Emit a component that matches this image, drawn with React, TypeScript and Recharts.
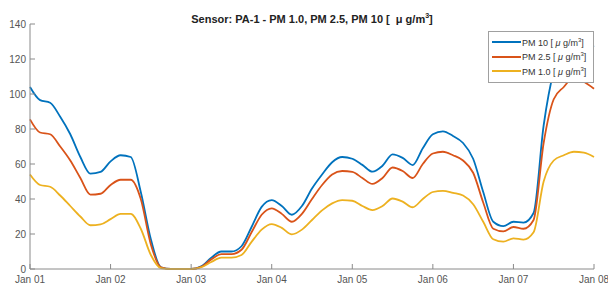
import React from 'react';
import { LineChart, Line, XAxis, YAxis, Legend } from 'recharts';

const hours = [0,3,6,9,12,15,18,21,24,27,30,33,36,39,42,45,48,51,54,57,60,63,66,69,72,75,78,81,84,87,90,93,96,99,102,105,108,111,114,117,120,123,126,129,132,135,138,141,144,147,150,153,156,159,162,165,168];

const pm10 = [104,96.5,95,87,77,64,54.5,55.5,61.5,65,64,44,17,1,0,0,0,1.5,6.5,10,10,13,24,35.5,39.4,36,31,36,46,54,61,64,63,59.5,55.6,59,65.5,63.5,59.4,69,77,78.7,76,72,63,44,27,24.5,27,26.5,32,82,113,126,131,130,127];
const pm25 = [85.5,78,77,70,62,52,42.5,43,48,51,51,40,14,1,0,0,0,1.2,5.5,8.5,8.5,11,21,31,34.7,31.5,27,31.5,40,48,54,56,55.5,52,48.6,52,58,56,52,60,66,67,65,62,55,38,23,21.5,24,23,28,72,97,104,109.5,107,103];
const pm1 = [54,48,47,42,36,30,25,25.5,28.5,31.5,31.5,23,8,0.5,0,0,0,1,4,6.5,6.5,8,15.5,22.5,25.7,23.5,19.8,22.5,28,33.5,37.5,39.4,39,36,33.7,36,40.3,38.5,35.3,40,44,44.7,43.5,42,37,27,17,15.6,17.5,16.8,21,50,62,65,67,66.5,64];

const xTickHours = [0,24,48,72,96,120,144,168];
const xTickLabels = ['Jan 01','Jan 02','Jan 03','Jan 04','Jan 05','Jan 06','Jan 07','Jan 08'];
const yTicks = [0,20,40,60,80,100,120,140];
const seriesNames = ['PM 10','PM 2.5','PM 1.0'];
const seriesColors = ['#0072BD','#D95319','#EDB120'];

const data = hours.map((t, i) => ({ t, pm10: pm10[i], pm25: pm25[i], pm1: pm1[i] }));

const FONT = '"Liberation Sans", Arial, sans-serif';
const AXIS = '#8a8a8a';

const renderLegend = (props: any) => {
  const payload = [...(props.payload || [])].sort(
    (a: any, b: any) => seriesNames.indexOf(a.value) - seriesNames.indexOf(b.value)
  );
  return (
    <div style={{ border: '1px solid #a0a0a0', background: '#fff', padding: '3px 7px 3px 3px', fontFamily: FONT, fontSize: 9, color: '#333' }}>
      {payload.map((entry: any, i: number) => (
        <div key={i} style={{ display: 'flex', alignItems: 'center', height: 14.5, whiteSpace: 'nowrap' }}>
          <svg width={29} height={4} style={{ marginRight: 1 }}>
            <line x1={0} y1={2} x2={29} y2={2} stroke={entry.color} strokeWidth={2} />
          </svg>
          <span>{entry.value} [ <span style={{ fontStyle: 'italic' }}>μ</span> g/m<sup style={{ fontSize: 6 }}>3</sup>]</span>
        </div>
      ))}
    </div>
  );
};

export default function App() {
  return (
    <div style={{ position: 'absolute', left: 0, top: 0, width: 608, height: 288, background: '#fff' }}>
      <div style={{ position: 'absolute', left: 30, width: 564, top: 9, textAlign: 'center', fontFamily: FONT, fontWeight: 'bold', fontSize: 11, color: '#222', lineHeight: '13px' }}>
        Sensor: PA-1 - PM 1.0, PM 2.5, PM 10 [ &nbsp;μ g/m<sup style={{ fontSize: 7 }}>3</sup>]
      </div>
      <LineChart width={608} height={288} data={data} margin={{ top: 24, right: 14, bottom: 0, left: 0 }}>
        <XAxis xAxisId="b" dataKey="t" type="number" domain={[0, 168]} ticks={xTickHours} interval={0}
          tickFormatter={(v: number) => xTickLabels[xTickHours.indexOf(v)]}
          height={19} tickSize={-5} tickMargin={12} stroke={AXIS}
          tick={{ fill: '#555', fontSize: 10, fontFamily: FONT }} />
        <XAxis xAxisId="t" orientation="top" dataKey="t" type="number" domain={[0, 168]} ticks={xTickHours} interval={0}
          height={0} tickSize={-5} tick={false} stroke={AXIS} />
        <YAxis yAxisId="l" type="number" domain={[0, 140]} ticks={yTicks} interval={0} width={30}
          tickSize={-5} tickMargin={9} stroke={AXIS}
          tick={{ fill: '#555', fontSize: 10, fontFamily: FONT }} />
        <YAxis yAxisId="r" orientation="right" type="number" domain={[0, 140]} ticks={yTicks} interval={0} width={0}
          tickSize={-5} tick={false} stroke={AXIS} />
        <Legend layout="vertical" align="center" verticalAlign="middle" content={renderLegend}
          wrapperStyle={{ position: 'absolute', top: 31, left: 488, width: 'auto', height: 'auto' }} />
        <Line xAxisId="b" yAxisId="l" type="monotone" dataKey="pm10" name={seriesNames[0]} stroke={seriesColors[0]} strokeWidth={1.8} dot={false} isAnimationActive={false} />
        <Line xAxisId="b" yAxisId="l" type="monotone" dataKey="pm25" name={seriesNames[1]} stroke={seriesColors[1]} strokeWidth={1.8} dot={false} isAnimationActive={false} />
        <Line xAxisId="b" yAxisId="l" type="monotone" dataKey="pm1" name={seriesNames[2]} stroke={seriesColors[2]} strokeWidth={1.8} dot={false} isAnimationActive={false} />
      </LineChart>
    </div>
  );
}
